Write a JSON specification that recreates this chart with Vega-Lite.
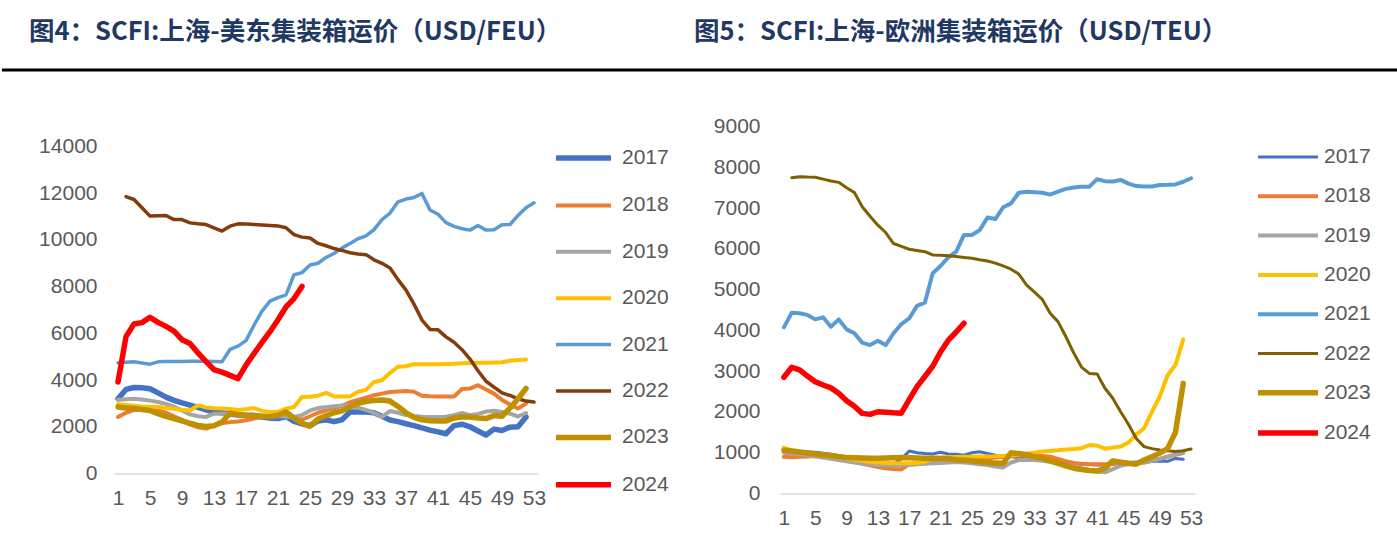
{
"$schema": "https://vega.github.io/schema/vega-lite/v6.json",
"background": "white",
"padding": 0,
"spacing": 56.5,
"bounds": "flush",
"config": {"view": {"stroke": null}, "font": "Liberation Sans"},
"datasets": {
"feu": [
{"w":2,"2017":3600,"2018":2600,"2019":3180,"2020":2930,"2021":4760,"2022":11850,"2023":2800,"2024":5860},
{"w":1,"2017":3200,"2018":2420,"2019":3160,"2020":2960,"2021":4740,"2023":2845,"2024":3920},
{"w":3,"2017":3680,"2018":2720,"2019":3200,"2020":2900,"2021":4780,"2022":11730,"2023":2780,"2024":6400},
{"w":4,"2017":3670,"2018":2750,"2019":3170,"2020":2870,"2021":4730,"2022":11380,"2023":2740,"2024":6460},
{"w":5,"2017":3630,"2018":2760,"2019":3120,"2020":2855,"2021":4680,"2022":11020,"2023":2700,"2024":6690},
{"w":6,"2017":3450,"2018":2700,"2019":3060,"2020":2845,"2021":4780,"2022":11030,"2023":2560,"2024":6470},
{"w":7,"2017":3270,"2018":2600,"2019":2980,"2020":2810,"2021":4790,"2022":11045,"2023":2450,"2024":6300},
{"w":8,"2017":3130,"2018":2450,"2019":2860,"2020":2770,"2021":4795,"2022":10870,"2023":2350,"2024":6100},
{"w":9,"2017":3020,"2018":2300,"2019":2700,"2020":2730,"2021":4800,"2022":10870,"2023":2250,"2024":5730},
{"w":10,"2017":2930,"2018":2100,"2019":2530,"2020":2700,"2021":4805,"2022":10730,"2023":2150,"2024":5570},
{"w":11,"2017":2830,"2018":1980,"2019":2450,"2020":2915,"2021":4810,"2022":10690,"2023":2060,"2024":5160},
{"w":12,"2017":2720,"2018":1920,"2019":2420,"2020":2830,"2021":4810,"2022":10660,"2023":2015,"2024":4790},
{"w":13,"2017":2650,"2018":2050,"2019":2560,"2020":2790,"2021":4800,"2022":10520,"2023":2040,"2024":4450},
{"w":14,"2017":2600,"2018":2150,"2019":2570,"2020":2780,"2021":4780,"2022":10380,"2023":2200,"2024":4340},
{"w":15,"2017":2550,"2018":2200,"2019":2550,"2020":2760,"2021":5310,"2022":10590,"2023":2580,"2024":4200},
{"w":16,"2017":2500,"2018":2230,"2019":2520,"2020":2720,"2021":5455,"2022":10690,"2023":2530,"2024":4060},
{"w":17,"2017":2490,"2018":2280,"2019":2500,"2020":2750,"2021":5690,"2022":10680,"2023":2480,"2024":4640},
{"w":18,"2017":2490,"2018":2350,"2019":2480,"2020":2800,"2021":6350,"2022":10660,"2023":2470,"2024":5130},
{"w":19,"2017":2420,"2018":2420,"2019":2470,"2020":2680,"2021":6950,"2022":10640,"2023":2450,"2024":5610},
{"w":20,"2017":2370,"2018":2450,"2019":2450,"2020":2620,"2021":7380,"2022":10620,"2023":2430,"2024":6070},
{"w":21,"2017":2350,"2018":2480,"2019":2450,"2020":2640,"2021":7530,"2022":10600,"2023":2500,"2024":6580},
{"w":22,"2017":2440,"2018":2450,"2019":2440,"2020":2775,"2021":7650,"2022":10520,"2023":2630,"2024":7130},
{"w":23,"2017":2230,"2018":2400,"2019":2420,"2020":2845,"2021":8510,"2022":10230,"2023":2380,"2024":7490},
{"w":24,"2017":2120,"2018":2300,"2019":2500,"2020":3280,"2021":8600,"2022":10120,"2023":2150,"2024":8010},
{"w":25,"2017":2050,"2018":2450,"2019":2700,"2020":3290,"2021":8930,"2022":10085,"2023":2020},
{"w":26,"2017":2250,"2018":2600,"2019":2800,"2020":3330,"2021":9000,"2022":9850,"2023":2330},
{"w":27,"2017":2300,"2018":2700,"2019":2840,"2020":3450,"2021":9250,"2022":9750,"2023":2470},
{"w":28,"2017":2220,"2018":2800,"2019":2880,"2020":3300,"2021":9420,"2022":9630,"2023":2600},
{"w":29,"2017":2300,"2018":2900,"2019":2915,"2020":3300,"2021":9650,"2022":9550,"2023":2680},
{"w":30,"2017":2630,"2018":3050,"2019":2910,"2020":3300,"2021":9850,"2022":9450,"2023":2850},
{"w":31,"2017":2630,"2018":3150,"2019":2820,"2020":3500,"2021":10050,"2022":9400,"2023":3010},
{"w":32,"2017":2630,"2018":3250,"2019":2720,"2020":3580,"2021":10170,"2022":9370,"2023":3080},
{"w":33,"2017":2600,"2018":3350,"2019":2600,"2020":3920,"2021":10440,"2022":9150,"2023":3130},
{"w":34,"2017":2450,"2018":3420,"2019":2420,"2020":3990,"2021":10870,"2022":9000,"2023":3150},
{"w":35,"2017":2290,"2018":3490,"2019":2675,"2020":4300,"2021":11150,"2022":8800,"2023":3100},
{"w":36,"2017":2220,"2018":3510,"2019":2600,"2020":4570,"2021":11630,"2022":8300,"2023":2870},
{"w":37,"2017":2130,"2018":3530,"2019":2500,"2020":4590,"2021":11750,"2022":7850,"2023":2600},
{"w":38,"2017":2050,"2018":3500,"2019":2460,"2020":4680,"2021":11820,"2022":7250,"2023":2400},
{"w":39,"2017":1950,"2018":3330,"2019":2430,"2020":4680,"2021":11990,"2022":6570,"2023":2300},
{"w":40,"2017":1860,"2018":3310,"2019":2420,"2020":4680,"2021":11280,"2022":6170,"2023":2260},
{"w":41,"2017":1780,"2018":3300,"2019":2420,"2020":4680,"2021":11100,"2022":6150,"2023":2250},
{"w":42,"2017":1700,"2018":3300,"2019":2430,"2020":4690,"2021":10740,"2022":5850,"2023":2250},
{"w":43,"2017":2050,"2018":3300,"2019":2500,"2020":4700,"2021":10580,"2022":5620,"2023":2380},
{"w":44,"2017":2110,"2018":3620,"2019":2590,"2020":4720,"2021":10480,"2022":5300,"2023":2420},
{"w":45,"2017":2000,"2018":3635,"2019":2500,"2020":4730,"2021":10420,"2022":4900,"2023":2420},
{"w":46,"2017":1820,"2018":3780,"2019":2550,"2020":4740,"2021":10615,"2022":4400,"2023":2380},
{"w":47,"2017":1650,"2018":3600,"2019":2650,"2020":4745,"2021":10420,"2022":3950,"2023":2350},
{"w":48,"2017":1900,"2018":3420,"2019":2690,"2020":4750,"2021":10440,"2022":3700,"2023":2480},
{"w":49,"2017":1840,"2018":3150,"2019":2630,"2020":4760,"2021":10650,"2022":3450,"2023":2450},
{"w":50,"2017":1985,"2018":2950,"2019":2560,"2020":4830,"2021":10660,"2022":3340,"2023":2800},
{"w":51,"2017":2000,"2018":2780,"2019":2440,"2020":4860,"2021":11050,"2022":3200,"2023":3200},
{"w":52,"2017":2420,"2018":2990,"2019":2590,"2020":4880,"2021":11380,"2022":3100,"2023":3640},
{"w":53,"2021":11590,"2022":3060}
],
"teu": [
{"w":2,"2017":1040,"2018":890,"2019":980,"2020":1060,"2021":4435,"2022":7745,"2023":1040,"2024":3095},
{"w":1,"2017":1050,"2018":900,"2019":1000,"2020":1120,"2021":4075,"2023":1060,"2024":2850},
{"w":3,"2017":1030,"2018":900,"2019":960,"2020":1020,"2021":4420,"2022":7770,"2023":1020,"2024":3030},
{"w":4,"2017":1020,"2018":910,"2019":940,"2020":990,"2021":4380,"2022":7760,"2023":995,"2024":2880},
{"w":5,"2017":1010,"2018":920,"2019":910,"2020":960,"2021":4270,"2022":7755,"2023":970,"2024":2740},
{"w":6,"2017":990,"2018":900,"2019":880,"2020":945,"2021":4320,"2022":7710,"2023":950,"2024":2660},
{"w":7,"2017":960,"2018":880,"2019":850,"2020":920,"2021":4090,"2022":7663,"2023":930,"2024":2590},
{"w":8,"2017":930,"2018":850,"2019":820,"2020":890,"2021":4270,"2022":7630,"2023":900,"2024":2460},
{"w":9,"2017":900,"2018":810,"2019":790,"2020":860,"2021":4025,"2022":7500,"2023":880,"2024":2275},
{"w":10,"2017":870,"2018":770,"2019":760,"2020":830,"2021":3930,"2022":7380,"2023":875,"2024":2140},
{"w":11,"2017":840,"2018":730,"2019":740,"2020":800,"2021":3700,"2022":7030,"2023":870,"2024":1965},
{"w":12,"2017":800,"2018":690,"2019":720,"2020":780,"2021":3640,"2022":6800,"2023":865,"2024":1940},
{"w":13,"2017":760,"2018":650,"2019":700,"2020":760,"2021":3745,"2022":6580,"2023":865,"2024":2005},
{"w":14,"2017":740,"2018":620,"2019":690,"2020":750,"2021":3640,"2022":6400,"2023":870,"2024":1995},
{"w":15,"2017":730,"2018":600,"2019":680,"2020":740,"2021":3930,"2022":6130,"2023":875,"2024":1980},
{"w":16,"2017":850,"2018":590,"2019":690,"2020":740,"2021":4155,"2022":6060,"2023":880,"2024":1970},
{"w":17,"2017":1040,"2018":720,"2019":700,"2020":740,"2021":4295,"2022":5990,"2023":875,"2024":2300},
{"w":18,"2017":1000,"2018":750,"2019":720,"2020":740,"2021":4600,"2022":5960,"2023":870,"2024":2620},
{"w":19,"2017":980,"2018":760,"2019":730,"2020":780,"2021":4680,"2022":5930,"2023":865,"2024":2870},
{"w":20,"2017":970,"2018":780,"2019":740,"2020":860,"2021":5400,"2022":5850,"2023":865,"2024":3120},
{"w":21,"2017":1010,"2018":800,"2019":750,"2020":880,"2021":5580,"2022":5840,"2023":860,"2024":3470},
{"w":22,"2017":970,"2018":810,"2019":760,"2020":890,"2021":5790,"2022":5830,"2023":850,"2024":3760},
{"w":23,"2017":960,"2018":820,"2019":770,"2020":895,"2021":5930,"2022":5810,"2023":830,"2024":3960},
{"w":24,"2017":940,"2018":830,"2019":760,"2020":900,"2021":6340,"2022":5790,"2023":815,"2024":4175},
{"w":25,"2017":1000,"2018":840,"2019":740,"2020":900,"2021":6340,"2022":5770,"2023":800},
{"w":26,"2017":1025,"2018":850,"2019":720,"2020":905,"2021":6460,"2022":5730,"2023":780},
{"w":27,"2017":980,"2018":860,"2019":700,"2020":910,"2021":6770,"2022":5700,"2023":760},
{"w":28,"2017":940,"2018":880,"2019":660,"2020":915,"2021":6730,"2022":5650,"2023":745},
{"w":29,"2017":920,"2018":900,"2019":640,"2020":925,"2021":7020,"2022":5580,"2023":740},
{"w":30,"2017":900,"2018":920,"2019":760,"2020":930,"2021":7115,"2022":5500,"2023":1000},
{"w":31,"2017":880,"2018":930,"2019":820,"2020":950,"2021":7375,"2022":5380,"2023":980},
{"w":32,"2017":870,"2018":940,"2019":830,"2020":980,"2021":7400,"2022":5110,"2023":950},
{"w":33,"2017":860,"2018":930,"2019":820,"2020":1000,"2021":7390,"2022":4940,"2023":900},
{"w":34,"2017":850,"2018":920,"2019":800,"2020":1030,"2021":7375,"2022":4760,"2023":860},
{"w":35,"2017":830,"2018":900,"2019":780,"2020":1045,"2021":7330,"2022":4420,"2023":800},
{"w":36,"2017":800,"2018":850,"2019":740,"2020":1060,"2021":7400,"2022":4215,"2023":740},
{"w":37,"2017":760,"2018":790,"2019":700,"2020":1080,"2021":7470,"2022":3850,"2023":680},
{"w":38,"2017":740,"2018":750,"2019":660,"2020":1090,"2021":7505,"2022":3450,"2023":620},
{"w":39,"2017":720,"2018":730,"2019":620,"2020":1110,"2021":7525,"2022":3100,"2023":590},
{"w":40,"2017":710,"2018":720,"2019":580,"2020":1190,"2021":7525,"2022":2945,"2023":565},
{"w":41,"2017":700,"2018":715,"2019":540,"2020":1175,"2021":7705,"2022":2930,"2023":550},
{"w":42,"2017":700,"2018":715,"2019":520,"2020":1100,"2021":7660,"2022":2580,"2023":620},
{"w":43,"2017":720,"2018":730,"2019":600,"2020":1125,"2021":7650,"2022":2335,"2023":800},
{"w":44,"2017":740,"2018":760,"2019":680,"2020":1150,"2021":7690,"2022":2005,"2023":770},
{"w":45,"2017":760,"2018":750,"2019":720,"2020":1250,"2021":7600,"2022":1700,"2023":740},
{"w":46,"2017":770,"2018":740,"2019":740,"2020":1450,"2021":7540,"2022":1350,"2023":720},
{"w":47,"2017":780,"2018":760,"2019":760,"2020":1600,"2021":7530,"2022":1150,"2023":820},
{"w":48,"2017":790,"2018":800,"2019":800,"2020":2000,"2021":7530,"2022":1100,"2023":900},
{"w":49,"2017":800,"2018":850,"2019":850,"2020":2380,"2021":7565,"2022":1065,"2023":990},
{"w":50,"2017":790,"2018":900,"2019":900,"2020":2900,"2021":7570,"2022":1050,"2023":1100},
{"w":51,"2017":860,"2018":950,"2019":960,"2020":3150,"2021":7580,"2022":1030,"2023":1500},
{"w":52,"2017":840,"2018":990,"2019":1010,"2020":3780,"2021":7645,"2022":1050,"2023":2700},
{"w":53,"2021":7730,"2022":1090}
]
},
"resolve": {"scale": {"x": "independent", "y": "independent"}},
"vconcat": [
{
"width": 1397,
"height": 70,
"layer": [
{
"data": {"values": [{"t": "图4：SCFI:上海-美东集装箱运价（USD/FEU）"}, {"t": "图5：SCFI:上海-欧洲集装箱运价（USD/TEU）"}]},
"mark": {"type": "text", "align": "left", "baseline": "middle", "font": "Noto Sans CJK SC", "fontWeight": "bold", "fontSize": 25.5, "color": "#1F3864"},
"encoding": {
"x": {"field": "t", "type": "nominal", "sort": null, "bandPosition": 0, "scale": {"type": "band", "paddingInner": 0, "paddingOuter": 0.0504, "align": 0.403}, "axis": null},
"y": {"datum": 38, "type": "quantitative", "scale": {"domain": [0, 70], "nice": false, "zero": false}, "axis": null},
"text": {"field": "t"}
}
},
{
"data": {"values": [{}]},
"mark": {"type": "rule", "color": "#000000", "strokeWidth": 3},
"encoding": {"y": {"datum": 0, "type": "quantitative"}}
}
]
},
{
"hconcat": [
{
"width": 112,
"height": 1,
"data": {"values": []},
"mark": "point"
},
{
"hconcat": [
{
"width": 424,
"height": 327,
"data": {"name": "feu"},
"transform": [{"fold": ["2017", "2018", "2019", "2020", "2021", "2022", "2023", "2024"], "as": ["year", "v"]}],
"mark": {"type": "line", "strokeCap": "round", "strokeJoin": "round"},
"encoding": {
"x": {"field": "w", "type": "quantitative", "scale": {"domain": [0.5, 53.5], "nice": false, "zero": false},
"axis": {"values": [1, 5, 9, 13, 17, 21, 25, 29, 33, 37, 41, 45, 49, 53], "format": "d", "title": null, "ticks": false, "grid": false, "domainColor": "#D9D9D9", "domainWidth": 1.5, "labelFontSize": 21, "labelColor": "#595959", "labelPadding": 14, "labelFlush": false, "labelFont": "Liberation Sans"}},
"y": {"field": "v", "type": "quantitative", "scale": {"domain": [0, 14000], "nice": false},
"axis": {"values": [0, 2000, 4000, 6000, 8000, 10000, 12000, 14000], "format": "d", "title": null, "ticks": false, "grid": false, "domain": false, "labelFontSize": 21, "labelColor": "#595959", "labelPadding": 17, "labelFont": "Liberation Sans"}},
"color": {"field": "year", "type": "nominal",
"scale": {"domain": ["2017", "2018", "2019", "2020", "2021", "2022", "2023", "2024"], "range": ["#4472C4", "#ED7D31", "#A5A5A5", "#FFC000", "#5B9BD5", "#843C0C", "#BF9000", "#FF0000"]},
"legend": {"title": null, "orient": "none", "legendX": 459, "legendY": 1, "symbolType": "stroke", "symbolSize": 3025, "symbolStrokeWidth": 4, "labelFontSize": 21, "labelColor": "#595959", "labelFont": "Liberation Sans", "labelOffset": 28, "rowPadding": 24.4, "padding": 0,
"encode": {"symbols": {"update": {"strokeWidth": {"signal": "indexof(['2017','2023','2024'], datum.value) >= 0 ? 5.5 : (indexof(['2018','2019','2020'], datum.value) >= 0 ? 4 : 3.5)"}}}}}},
"strokeWidth": {"condition": [{"test": "indexof(['2017','2023','2024'], datum.year) >= 0", "value": 5.5}, {"test": "indexof(['2018','2019','2020'], datum.year) >= 0", "value": 4}], "value": 3.5}
}
},
{
"width": 415,
"height": 367,
"data": {"name": "teu"},
"transform": [{"fold": ["2017", "2018", "2019", "2020", "2021", "2022", "2023", "2024"], "as": ["year", "v"]}],
"mark": {"type": "line", "strokeCap": "round", "strokeJoin": "round"},
"encoding": {
"x": {"field": "w", "type": "quantitative", "scale": {"domain": [0.5, 53.5], "nice": false, "zero": false},
"axis": {"values": [1, 5, 9, 13, 17, 21, 25, 29, 33, 37, 41, 45, 49, 53], "format": "d", "title": null, "ticks": false, "grid": false, "domainColor": "#D9D9D9", "domainWidth": 1.5, "labelFontSize": 21, "labelColor": "#595959", "labelPadding": 14, "labelFlush": false, "labelFont": "Liberation Sans"}},
"y": {"field": "v", "type": "quantitative", "scale": {"domain": [0, 9000], "nice": false},
"axis": {"values": [0, 1000, 2000, 3000, 4000, 5000, 6000, 7000, 8000, 9000], "format": "d", "title": null, "ticks": false, "grid": false, "domain": false, "labelFontSize": 21, "labelColor": "#595959", "labelPadding": 20, "labelFont": "Liberation Sans"}},
"color": {"field": "year", "type": "nominal",
"scale": {"domain": ["2017", "2018", "2019", "2020", "2021", "2022", "2023", "2024"], "range": ["#4472C4", "#ED7D31", "#A5A5A5", "#FFC000", "#5B9BD5", "#7F6000", "#BF9000", "#FF0000"]},
"legend": {"title": null, "orient": "none", "legendX": 497.5, "legendY": 20, "symbolType": "stroke", "symbolSize": 3600, "symbolStrokeWidth": 4, "labelFontSize": 21, "labelColor": "#595959", "labelFont": "Liberation Sans", "labelOffset": 25.5, "rowPadding": 17.3, "padding": 0,
"encode": {"symbols": {"update": {"strokeWidth": {"signal": "indexof(['2023','2024'], datum.value) >= 0 ? 5.5 : (indexof(['2017','2022'], datum.value) >= 0 ? 3 : 4)"}}}}}},
"strokeWidth": {"condition": [{"test": "indexof(['2023','2024'], datum.year) >= 0", "value": 5.5}, {"test": "indexof(['2017','2022'], datum.year) >= 0", "value": 3}], "value": 4}
}
}
],
"spacing": 242,
"bounds": "flush",
"center": true,
"resolve": {"scale": {"color": "independent", "x": "independent", "y": "independent"}, "legend": {"color": "independent"}}
}
],
"spacing": 0,
"bounds": "flush",
"resolve": {"scale": {"x": "independent", "y": "independent"}}
}
]
}
